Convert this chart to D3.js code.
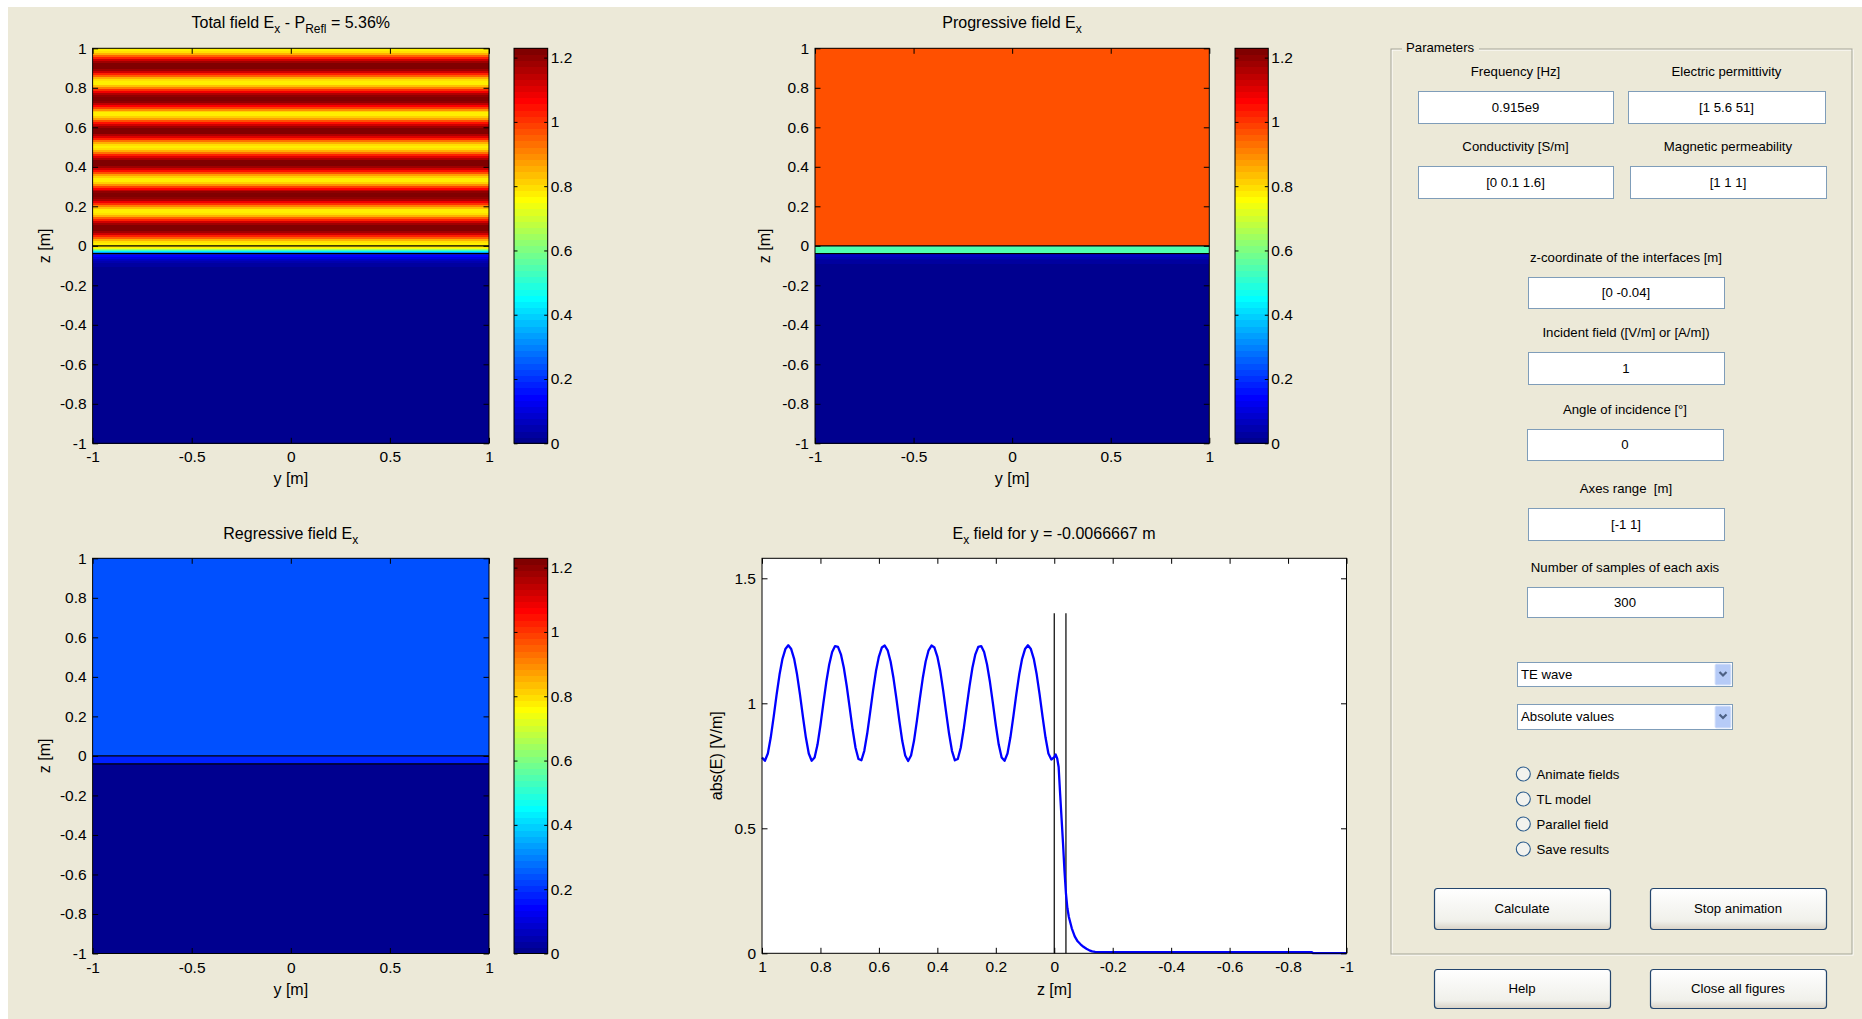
<!DOCTYPE html>
<html>
<head>
<meta charset="utf-8">
<script src="https://cdn.jsdelivr.net/npm/d3@7"></script>
<style>
  body { margin: 0; background: #fff; }
  svg { display: block; }
  text { white-space: pre; }
</style>
</head>
<body>
<div id="chart"></div>
<script>
// ---- values ----
const zTicks = [-1, -0.8, -0.6, -0.4, -0.2, 0, 0.2, 0.4, 0.6, 0.8, 1];
const yTicks = [-1, -0.5, 0, 0.5, 1];
const colorTicks = [0, 0.2, 0.4, 0.6, 0.8, 1, 1.2];
const profileTicksX = [1, 0.8, 0.6, 0.4, 0.2, 0, -0.2, -0.4, -0.6, -0.8, -1];
const profileTicksY = [0, 0.5, 1, 1.5];
const colorMax = 1.229;
const profileMax = 1.58;
const interfaces = [0, -0.04];
const interfaceLineTop = 1.36;

// |E| of the total field along z (same for every y)
const totalZ = [
  1.00, 0.99, 0.98, 0.97, 0.96, 0.95, 0.94, 0.93, 0.92, 0.91,
  0.90, 0.89, 0.88, 0.87, 0.86, 0.85, 0.84, 0.83, 0.82, 0.81,
  0.80, 0.79, 0.78, 0.77, 0.76, 0.75, 0.74, 0.73, 0.72, 0.71,
  0.70, 0.69, 0.68, 0.67, 0.66, 0.65, 0.64, 0.63, 0.62, 0.61,
  0.60, 0.59, 0.58, 0.57, 0.56, 0.55, 0.54, 0.53, 0.52, 0.51,
  0.50, 0.49, 0.48, 0.47, 0.46, 0.45, 0.44, 0.43, 0.42, 0.41,
  0.40, 0.39, 0.38, 0.37, 0.36, 0.35, 0.34, 0.33, 0.32, 0.31,
  0.30, 0.29, 0.28, 0.27, 0.26, 0.25, 0.24, 0.23, 0.22, 0.21,
  0.20, 0.19, 0.18, 0.17, 0.16, 0.15, 0.14, 0.13, 0.12, 0.11,
  0.10, 0.09, 0.08, 0.07, 0.06, 0.05, 0.04, 0.03, 0.02, 0.01,
  0.00,
  -0.005, -0.01, -0.015, -0.02, -0.025, -0.03, -0.035, -0.04, -0.045, -0.05,
  -0.06, -0.07, -0.08, -0.09, -0.10, -0.11, -0.12, -0.13, -0.14,
  -0.20, -0.50, -0.88, -0.885, -1.00
];
const totalAbs = [
  0.783, 0.770, 0.799, 0.864, 0.947, 1.035, 1.115, 1.178, 1.217, 1.232,
  1.217, 1.178, 1.115, 1.035, 0.947, 0.864, 0.799, 0.770, 0.783, 0.835,
  0.913, 1.001, 1.085, 1.155, 1.205, 1.229, 1.226, 1.196, 1.142, 1.068,
  0.983, 0.896, 0.822, 0.777, 0.772, 0.810, 0.879, 0.964, 1.051, 1.129,
  1.187, 1.223, 1.231, 1.212, 1.167, 1.100, 1.018, 0.930, 0.849, 0.791,
  0.769, 0.791, 0.849, 0.930, 1.018, 1.100, 1.167, 1.212, 1.231, 1.223,
  1.187, 1.129, 1.051, 0.964, 0.879, 0.810, 0.772, 0.777, 0.822, 0.896,
  0.983, 1.068, 1.142, 1.196, 1.226, 1.229, 1.205, 1.155, 1.085, 1.001,
  0.913, 0.835, 0.783, 0.770, 0.799, 0.864, 0.947, 1.035, 1.115, 1.178,
  1.217, 1.232, 1.217, 1.178, 1.115, 1.035, 0.947, 0.864, 0.799, 0.775,
  0.785,
  0.795, 0.780, 0.745, 0.640, 0.540, 0.440, 0.330, 0.240, 0.180, 0.145,
  0.100, 0.068, 0.048, 0.036, 0.026, 0.018, 0.012, 0.008, 0.006,
  0.005, 0.005, 0.005, 0.001, 0.001
];

// progressive and regressive parts (layer steps)
const progZ = [1, 0.5, 0.002, -0.002, -0.02, -0.038, -0.042, -0.05, -0.06, -0.07, -0.08, -0.1, -0.5, -1];
const progAbs = [0.97, 0.97, 0.97, 0.545, 0.545, 0.545, 0.11, 0.07, 0.045, 0.03, 0.02, 0.01, 0, 0];
const regZ = [1, 0.5, 0.002, -0.002, -0.02, -0.038, -0.042, -0.06, -0.5, -1];
const regAbs = [0.235, 0.235, 0.235, 0.19, 0.19, 0.19, 0.01, 0, 0, 0];

// right-hand panel texts
const paramLabels = ['Frequency [Hz]', 'Electric permittivity', 'Conductivity [S/m]', 'Magnetic permeability',
  'z-coordinate of the interfaces [m]', 'Incident field ([V/m] or [A/m])', 'Angle of incidence [°]',
  'Axes range  [m]', 'Number of samples of each axis'];
const paramValues = ['0.915e9', '[1 5.6 51]', '[0 0.1 1.6]', '[1 1 1]', '[0 -0.04]', '1', '0', '[-1 1]', '300'];
const menuItems = ['TE wave', 'Absolute values'];
const radioLabels = ['Animate fields', 'TL model', 'Parallel field', 'Save results'];
const buttonLabels = ['Calculate', 'Stop animation', 'Help', 'Close all figures'];

// ---- page ----
const W = 1862, H = 1019;
const BG = '#ECE9D8';
const FONT = '"Liberation Sans", Arial, sans-serif';
const TICK = 5.5;

const svg = d3.select('#chart').append('svg')
    .attr('width', W)
    .attr('height', H)
    .style('font-family', FONT);

svg.append('rect').attr('width', W).attr('height', H).attr('fill', '#fff');
svg.append('rect').attr('x', 8).attr('y', 7).attr('width', W - 8).attr('height', H - 7).attr('fill', BG);

const defs = svg.append('defs');
const btnGrad = defs.append('linearGradient').attr('id', 'btnGrad').attr('x1', 0).attr('x2', 0).attr('y1', 0).attr('y2', 1);
btnGrad.append('stop').attr('offset', '0%').attr('stop-color', '#FFFFFF');
btnGrad.append('stop').attr('offset', '80%').attr('stop-color', '#F0F0EA');
btnGrad.append('stop').attr('offset', '100%').attr('stop-color', '#D8D2C6');

// MATLAB jet(64)
function jet64(k) {
    const r = k <= 24 ? 0 : k <= 40 ? (k - 24) / 16 : k <= 56 ? 1 : (16 - (k - 56)) / 16;
    const g = k <= 8 ? 0 : k <= 24 ? (k - 8) / 16 : k <= 40 ? 1 : k <= 56 ? (16 - (k - 40)) / 16 : 0;
    const b = k <= 8 ? (k + 8) / 16 : k <= 24 ? 1 : k <= 40 ? (16 - (k - 24)) / 16 : 0;
    return d3.rgb(r * 255, g * 255, b * 255).formatHex();
}
function colorOf(v) {
    const k = Math.max(1, Math.min(64, Math.floor(v / colorMax * 64) + 1));
    return jet64(k);
}

function title(cx, baseline, parts) {
    const t = svg.append('text')
        .attr('x', cx)
        .attr('y', baseline)
        .attr('text-anchor', 'middle')
        .style('font-size', '16px')
        .style('fill', '#000');
    let shift = 0;
    parts.forEach(p => {
        const target = p[1] ? 5 : 0;
        t.append('tspan')
            .attr('dy', target - shift)
            .style('font-size', p[1] ? '12px' : '16px')
            .text(p[0]);
        shift = target;
    });
}

function styleAxis(sel) {
    sel.attr('font-family', null).attr('font-size', null);
    sel.select('.domain').remove();
    sel.selectAll('.tick line').attr('stroke', '#000');
    sel.selectAll('.tick text').style('font-size', '15.5px').attr('fill', '#000');
}

function addAxes(xs, ys, xVals, yVals) {
    const [x0, x1] = [Math.min(...xs.range()), Math.max(...xs.range())];
    const [yb, yt] = ys.range();
    const fmt = d => String(d);
    svg.append('g').attr('transform', `translate(0,${yb})`)
        .call(d3.axisBottom(xs).tickValues(xVals).tickSize(-TICK).tickPadding(8).tickFormat(fmt))
        .call(styleAxis);
    svg.append('g').attr('transform', `translate(0,${yt})`)
        .call(d3.axisTop(xs).tickValues(xVals).tickSize(-TICK).tickFormat(''))
        .call(styleAxis);
    svg.append('g').attr('transform', `translate(${x0},0)`)
        .call(d3.axisLeft(ys).tickValues(yVals).tickSize(-TICK).tickPadding(6).tickFormat(fmt))
        .call(styleAxis);
    svg.append('g').attr('transform', `translate(${x1},0)`)
        .call(d3.axisRight(ys).tickValues(yVals).tickSize(-TICK).tickFormat(''))
        .call(styleAxis);
    svg.append('rect')
        .attr('x', x0).attr('y', yt).attr('width', x1 - x0).attr('height', yb - yt)
        .attr('fill', 'none').attr('stroke', '#000').attr('stroke-width', 1);
}

function axisLabels(xs, ys, xText, yText, xBase, yBase) {
    const [x0, x1] = [Math.min(...xs.range()), Math.max(...xs.range())];
    const [yb, yt] = ys.range();
    svg.append('text')
        .attr('x', (x0 + x1) / 2).attr('y', xBase)
        .attr('text-anchor', 'middle').style('font-size', '16px')
        .text(xText);
    svg.append('text')
        .attr('transform', `translate(${yBase},${(yb + yt) / 2}) rotate(-90)`)
        .attr('text-anchor', 'middle').style('font-size', '16px')
        .text(yText);
}

function heatmap(xs, ys, zs, vals) {
    const [x0, x1] = xs.range();
    const n = zs.length;
    const g = svg.append('g').attr('shape-rendering', 'crispEdges');
    zs.forEach((z, i) => {
        const zt = i === 0 ? zs[0] : (zs[i - 1] + z) / 2;
        const zb = i === n - 1 ? zs[n - 1] : (z + zs[i + 1]) / 2;
        g.append('rect')
            .attr('x', x0).attr('width', x1 - x0)
            .attr('y', ys(zt)).attr('height', Math.max(0, ys(zb) - ys(zt)) + 0.6)
            .attr('fill', colorOf(vals[i]));
    });
    interfaces.forEach(zi => {
        svg.append('line')
            .attr('x1', x0).attr('x2', x1)
            .attr('y1', ys(zi)).attr('y2', ys(zi))
            .attr('stroke', '#000').attr('stroke-width', 1.3);
    });
}

function colorbar(cx0, cx1, yb, yt) {
    const cs = d3.scaleLinear().domain([0, colorMax]).range([yb, yt]);
    const g = svg.append('g').attr('shape-rendering', 'crispEdges');
    d3.range(1, 65).forEach(k => {
        const v0 = (k - 1) / 64 * colorMax, v1 = k / 64 * colorMax;
        g.append('rect')
            .attr('x', cx0).attr('width', cx1 - cx0)
            .attr('y', cs(v1)).attr('height', cs(v0) - cs(v1) + 0.6)
            .attr('fill', jet64(k));
    });
    svg.append('g').attr('transform', `translate(${cx1},0)`)
        .call(d3.axisRight(cs).tickValues(colorTicks).tickSize(-3.5).tickPadding(3).tickFormat(d => String(d)))
        .call(styleAxis);
    svg.append('g').attr('transform', `translate(${cx0},0)`)
        .call(d3.axisLeft(cs).tickValues(colorTicks).tickSize(-3.5).tickFormat(''))
        .call(styleAxis);
    svg.append('rect')
        .attr('x', cx0).attr('y', yt).attr('width', cx1 - cx0).attr('height', yb - yt)
        .attr('fill', 'none').attr('stroke', '#000');
}

// ---- plot 1: total field ----
const x1s = d3.scaleLinear().domain([-1, 1]).range([92.6, 489]);
const y1s = d3.scaleLinear().domain([-1, 1]).range([443.3, 48.3]);
heatmap(x1s, y1s, totalZ, totalAbs);
addAxes(x1s, y1s, yTicks, zTicks);
axisLabels(x1s, y1s, 'y [m]', 'z [m]', 483.5, 50);
colorbar(514, 547.7, 443.3, 48.3);
title(290.8, 28, [['Total field E'], ['x', 1], [' - P'], ['Refl', 1], [' = 5.36%']]);

// ---- plot 2: progressive field ----
const x2s = d3.scaleLinear().domain([-1, 1]).range([815, 1209.3]);
const y2s = d3.scaleLinear().domain([-1, 1]).range([443.3, 48.3]);
heatmap(x2s, y2s, progZ, progAbs);
addAxes(x2s, y2s, yTicks, zTicks);
axisLabels(x2s, y2s, 'y [m]', 'z [m]', 483.5, 770);
colorbar(1235, 1268.3, 443.3, 48.3);
title(1012, 28, [['Progressive field E'], ['x', 1]]);

// ---- plot 3: regressive field ----
const x3s = d3.scaleLinear().domain([-1, 1]).range([92.6, 489]);
const y3s = d3.scaleLinear().domain([-1, 1]).range([953.5, 558.3]);
heatmap(x3s, y3s, regZ, regAbs);
addAxes(x3s, y3s, yTicks, zTicks);
axisLabels(x3s, y3s, 'y [m]', 'z [m]', 994.5, 50);
colorbar(514, 547.7, 953.5, 558.3);
title(290.8, 539, [['Regressive field E'], ['x', 1]]);

// ---- plot 4: field profile ----
const x4s = d3.scaleLinear().domain([1, -1]).range([762, 1346.5]);
const y4s = d3.scaleLinear().domain([0, profileMax]).range([953.3, 558.3]);
svg.append('rect')
    .attr('x', 762).attr('y', 558.3).attr('width', 1346.5 - 762).attr('height', 953.3 - 558.3)
    .attr('fill', '#fff');
interfaces.forEach(zi => {
    svg.append('line')
        .attr('x1', x4s(zi)).attr('x2', x4s(zi))
        .attr('y1', y4s(0)).attr('y2', y4s(interfaceLineTop))
        .attr('stroke', '#000').attr('stroke-width', 1.2);
});
const profile = totalZ.map((z, i) => ({ z: z, v: totalAbs[i] }));
svg.append('path')
    .datum(profile)
    .attr('d', d3.line().x(d => x4s(d.z)).y(d => y4s(d.v)))
    .attr('fill', 'none')
    .attr('stroke', '#0000FF')
    .attr('stroke-width', 2.3)
    .attr('stroke-linejoin', 'round');
addAxes(x4s, y4s, profileTicksX, profileTicksY);
axisLabels(x4s, y4s, 'z [m]', 'abs(E) [V/m]', 994.5, 722);
title(1054, 539, [['E'], ['x', 1], [' field for y = -0.0066667 m']]);

// ---- right-hand parameter panel ----
const panelFont = '13.2px';
const frame = { x0: 1391, x1: 1852, y0: 49, y1: 954 };
svg.append('rect')
    .attr('x', frame.x0 + 1).attr('y', frame.y0 + 1)
    .attr('width', frame.x1 - frame.x0).attr('height', frame.y1 - frame.y0)
    .attr('fill', 'none').attr('stroke', '#fff');
svg.append('rect')
    .attr('x', frame.x0).attr('y', frame.y0)
    .attr('width', frame.x1 - frame.x0).attr('height', frame.y1 - frame.y0)
    .attr('fill', 'none').attr('stroke', '#A5A597');
svg.append('rect').attr('x', 1402).attr('y', 40).attr('width', 77).attr('height', 16).attr('fill', BG);
svg.append('text')
    .attr('x', 1406).attr('y', 47).attr('dy', '0.35em')
    .style('font-size', panelFont)
    .text('Parameters');

const editLayout = [
    { x0: 1418, x1: 1613, y0: 91, y1: 123, ly: 71 },
    { x0: 1628, x1: 1825, y0: 91, y1: 123, ly: 71 },
    { x0: 1418, x1: 1613, y0: 166, y1: 198, ly: 146 },
    { x0: 1630, x1: 1826, y0: 166, y1: 198, ly: 146 },
    { x0: 1528, x1: 1724, y0: 277, y1: 308, ly: 257 },
    { x0: 1528, x1: 1724, y0: 352, y1: 384, ly: 332 },
    { x0: 1527, x1: 1723, y0: 429, y1: 460, ly: 409 },
    { x0: 1528, x1: 1724, y0: 508, y1: 540, ly: 488 },
    { x0: 1527, x1: 1723, y0: 587, y1: 617, ly: 567 }
];
editLayout.forEach((b, i) => {
    const cx = (b.x0 + b.x1) / 2;
    svg.append('text')
        .attr('x', cx).attr('y', b.ly).attr('dy', '0.35em')
        .attr('text-anchor', 'middle').style('font-size', panelFont)
        .text(paramLabels[i]);
    svg.append('rect')
        .attr('x', b.x0 + 0.5).attr('y', b.y0 + 0.5)
        .attr('width', b.x1 - b.x0).attr('height', b.y1 - b.y0)
        .attr('fill', '#fff').attr('stroke', '#7F9DB9');
    svg.append('text')
        .attr('x', cx).attr('y', (b.y0 + b.y1) / 2).attr('dy', '0.35em')
        .attr('text-anchor', 'middle').style('font-size', panelFont)
        .text(paramValues[i]);
});

const menuLayout = [{ y0: 662, y1: 686 }, { y0: 704, y1: 729 }];
menuLayout.forEach((m, i) => {
    svg.append('rect')
        .attr('x', 1517.5).attr('y', m.y0 + 0.5).attr('width', 215).attr('height', m.y1 - m.y0)
        .attr('fill', '#fff').attr('stroke', '#7F9DB9');
    svg.append('rect')
        .attr('x', 1715).attr('y', m.y0 + 2).attr('width', 16).attr('height', m.y1 - m.y0 - 3)
        .attr('rx', 1.5).attr('fill', '#B6CBF7').attr('stroke', '#DCE6FB');
    const cy = (m.y0 + m.y1) / 2;
    svg.append('path')
        .attr('d', `M1719.5,${cy - 2} L1723,${cy + 1.5} L1726.5,${cy - 2}`)
        .attr('fill', 'none').attr('stroke', '#4D6185').attr('stroke-width', 2.2);
    svg.append('text')
        .attr('x', 1521).attr('y', cy).attr('dy', '0.35em')
        .style('font-size', panelFont)
        .text(menuItems[i]);
});

const radioY = [774, 799, 824, 849];
radioY.forEach((cy, i) => {
    svg.append('circle')
        .attr('cx', 1523.3).attr('cy', cy).attr('r', 7)
        .attr('fill', '#F2F2EE').attr('stroke', '#2A5B8C').attr('stroke-width', 1.1);
    svg.append('text')
        .attr('x', 1536.5).attr('y', cy).attr('dy', '0.35em')
        .style('font-size', panelFont)
        .text(radioLabels[i]);
});

const buttonLayout = [
    { x0: 1434, x1: 1610, y0: 888, y1: 929 },
    { x0: 1650, x1: 1826, y0: 888, y1: 929 },
    { x0: 1434, x1: 1610, y0: 969, y1: 1008 },
    { x0: 1650, x1: 1826, y0: 969, y1: 1008 }
];
buttonLayout.forEach((b, i) => {
    svg.append('rect')
        .attr('x', b.x0 + 0.5).attr('y', b.y0 + 0.5)
        .attr('width', b.x1 - b.x0).attr('height', b.y1 - b.y0)
        .attr('rx', 3).attr('fill', 'url(#btnGrad)').attr('stroke', '#24466E').attr('stroke-width', 1.2);
    svg.append('text')
        .attr('x', (b.x0 + b.x1) / 2).attr('y', (b.y0 + b.y1) / 2).attr('dy', '0.35em')
        .attr('text-anchor', 'middle').style('font-size', panelFont)
        .text(buttonLabels[i]);
});
</script>
</body>
</html>
